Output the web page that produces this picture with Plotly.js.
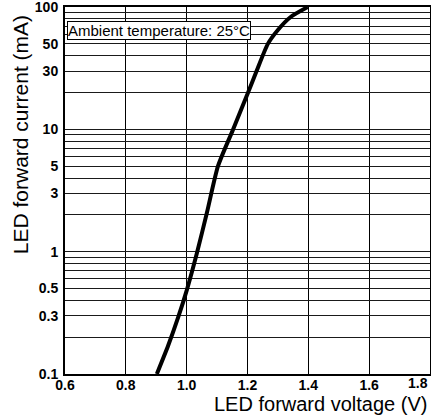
<!DOCTYPE html>
<html>
<head>
<meta charset="utf-8">
<script src="https://cdn.plot.ly/plotly-3.0.1.min.js"></script>
<style>html,body{margin:0;padding:0;background:#fff;}#chart{width:431px;height:416px;}</style>
</head>
<body>
<div id="chart"></div>
<script>
// Data
const voltage = [0.902, 0.939, 0.972, 1.001, 1.034, 1.067, 1.103, 1.152, 1.202, 1.230, 1.267, 1.300, 1.342, 1.398];
const current = [0.1, 0.17, 0.29, 0.49, 0.98, 2.1, 5.0, 9.9, 20, 30, 50, 65, 83, 100];

const xTickVals = [0.6, 0.8, 1.0, 1.2, 1.4, 1.6, 1.8];
const xTickText = ["0.6", "0.8", "1.0", "1.2", "1.4", "1.6", "1.8"];

const yGridVals = [0.1,0.2,0.3,0.4,0.5,0.6,0.7,0.8,0.9,1,2,3,4,5,6,7,8,9,10,20,30,40,50,60,70,80,90,100];
const yLabelVals = [0.1, 0.3, 0.5, 1, 3, 5, 10, 30, 50, 100];
const yLabelText = ["0.1", "0.3", "0.5", "1", "3", "5", "10", "30", "50", "100"];

const annotationText = "Ambient temperature: 25°C";
const xTitle = "LED forward voltage (V)";
const yTitle = "LED forward current (mA)";

const yTickText = yGridVals.map(v => {
  const i = yLabelVals.indexOf(v);
  return i >= 0 ? yLabelText[i] : "";
});
// the last x label sits flush against the right edge in the reference
const lastX = xTickVals.length - 1;
const xTickTextAxis = xTickText.map((t, i) => i === lastX ? "" : t);

const trace = {
  x: voltage, y: current, type: "scatter", mode: "lines",
  line: {color: "#000", width: 4, shape: "spline", smoothing: 0.6},
  hoverinfo: "skip", cliponaxis: true
};

const font = {family: "Liberation Sans, Arial, sans-serif", color: "#000"};
const tickFont = {family: font.family, size: 14, color: "#000", weight: "bold"};

const layout = {
  width: 431, height: 416,
  margin: {l: 65, r: 1, t: 7, b: 42, pad: 0},
  paper_bgcolor: "#fff", plot_bgcolor: "#fff",
  showlegend: false,
  font: font,
  xaxis: {
    range: [0.6, 1.8002], tickvals: xTickVals, ticktext: xTickTextAxis,
    showgrid: true, gridcolor: "#000", gridwidth: 1,
    showline: true, linecolor: "#000", linewidth: 2, mirror: true,
    ticks: "", zeroline: false, ticklabeloverflow: "allow", ticklabelstandoff: -3,
    tickfont: tickFont
  },
  yaxis: {
    type: "log", range: [-1, 2.0005], tickvals: yGridVals, ticktext: yTickText,
    showgrid: true, gridcolor: "#1a1a1a", gridwidth: 1,
    showline: true, linecolor: "#000", linewidth: 2, mirror: true,
    ticks: "", zeroline: false, ticklabelstandoff: 2, ticklabeloverflow: "allow",
    tickfont: tickFont
  },
  annotations: [
    {text: xTickText[lastX], xref: "x", yref: "paper", x: xTickVals[lastX], y: -0.0245,
     xanchor: "right", yanchor: "middle", showarrow: false, borderpad: 0, xshift: -1,
     font: tickFont},
    {text: annotationText, xref: "paper", yref: "y", x: 0.006, y: Math.log10(64),
     xanchor: "left", yanchor: "middle", showarrow: false,
     bgcolor: "#fff", bordercolor: "#000", borderwidth: 1, borderpad: 0,
     font: {family: font.family, size: 15, color: "#000"}},
    {text: xTitle, xref: "paper", yref: "paper", x: 0.9945, y: -0.1144,
     xanchor: "right", yanchor: "bottom", showarrow: false, borderpad: 0,
     font: {family: font.family, size: 20, color: "#000"}},
    {text: yTitle, xref: "paper", yref: "paper", x: -0.123, y: 0.651,
     xanchor: "center", yanchor: "middle", showarrow: false, textangle: -90,
     font: {family: font.family, size: 21, color: "#000"}}
  ]
};

Plotly.newPlot("chart", [trace], layout, {displayModeBar: false, staticPlot: true});
</script>
</body>
</html>
